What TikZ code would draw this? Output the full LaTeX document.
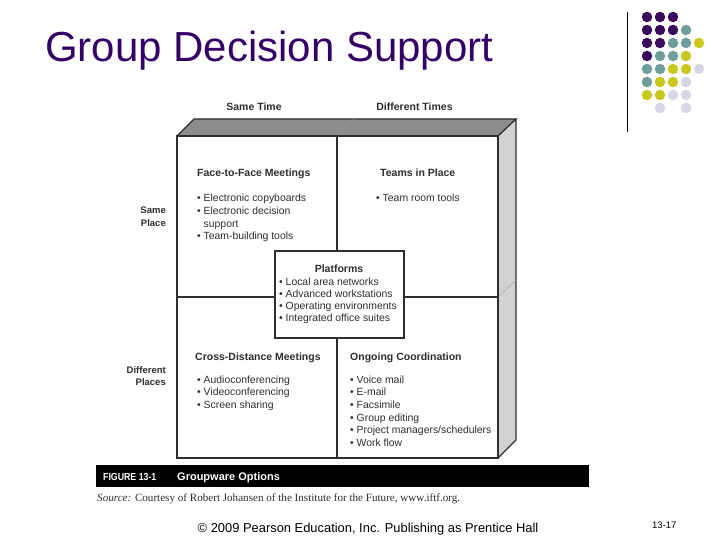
\documentclass[tikz,border=0pt]{standalone}
\usepackage{fontspec}
\setmainfont{Liberation Sans}
\newfontfamily\srcfont{Liberation Serif}
\definecolor{titlepurple}{HTML}{330066}
\definecolor{dotP}{HTML}{3A0B5C}
\definecolor{dotT}{HTML}{6F9C9C}
\definecolor{dotY}{HTML}{C8C81E}
\definecolor{dotL}{HTML}{D6D6E6}
\definecolor{ink}{HTML}{2E2E2E}
\definecolor{topgray}{HTML}{8C8C8C}
\definecolor{sidegray}{HTML}{D2D2D2}
\newcommand\mylistL[1]{\begin{tabular}[t]{@{}l@{}}#1\end{tabular}}
\newcommand\mylistR[1]{\begin{tabular}[t]{@{}r@{}}#1\end{tabular}}
\tikzset{
  txt/.style={inner sep=0pt, text=ink, font=\fontsize{10.4}{12.6}\selectfont},
  hdr/.style={inner sep=0pt, text=ink, font=\fontsize{10.5}{12.6}\selectfont\bfseries},
  edge/.style={draw=ink, line width=1.3pt},
  dotsty/.style={circle, inner sep=0pt, minimum size=10.5pt},
}
\begin{document}
\begin{tikzpicture}[x=1pt,y=-1pt]
\useasboundingbox (0,0) rectangle (720,540);
% title
\node[anchor=base west, inner sep=0pt, text=titlepurple, font=\fontsize{42}{50}\selectfont] (title) at (45,62) {Group Decision Support};
% decoration line and dots
\coordinate (vl1) at (627,12);
\coordinate (vl2) at (627,132);
\draw[line width=1pt] (vl1) -- (vl2);
\foreach \r/\row in {1/{P,P,P},2/{P,P,P,T},3/{P,P,T,T,Y},4/{P,T,T,Y},5/{T,T,Y,Y,L},6/{T,Y,Y,L},7/{Y,Y,L,L}}{
  \foreach \c [count=\i] in \row {
      \node[dotsty, fill=dot\c] (dot-\r-\i) at ({647+13*(\i-1)},{17+13*(\r-1)}) {};
  }
}
\node[dotsty, fill=dotL] (dot-8-2) at (660,108) {};
\node[dotsty, fill=dotL] (dot-8-4) at (686,108) {};
% box
\coordinate (fTL) at (177,136);
\coordinate (fTR) at (498,136);
\coordinate (fBL) at (177,458);
\coordinate (fBR) at (498,458);
\coordinate (bTL) at (194,119);
\coordinate (bTR) at (516,119);
\coordinate (bBR) at (516,440);
\fill[topgray] (fTL) -- (bTL) -- (bTR) -- (fTR) -- cycle;
\fill[sidegray] (fTR) -- (bTR) -- (bBR) -- (fBR) -- cycle;
\draw[edge, line join=miter] (fTL) -- (bTL) -- (bTR) -- (fTR);
\draw[edge] (bTR) -- (bBR) -- (fBR);
\draw[gray!80, line width=0.6pt] (337,136) -- (354,119);
\draw[gray!65, line width=0.6pt] (498,297) -- (516,280);
\draw[edge, fill=white] (fTL) rectangle (fBR);
\draw[edge] (337,136) -- (337,458);
\draw[edge] (177,297) -- (498,297);
\node[draw=ink, line width=1.3pt, fill=white, minimum width=129pt, minimum height=87pt, inner sep=0pt] (plat) at (339.5,294.5) {};
% axis labels
\node[hdr, anchor=base] (st) at (254,110.5) {Same Time};
\node[hdr, anchor=base] (dt) at (414.5,111) {Different Times};
\node[hdr, anchor=base east, font=\fontsize{9.5}{12.4}\selectfont\bfseries] (sp) at (166,214) {\mylistR{Same\\Place}};
\node[hdr, anchor=base east, font=\fontsize{9.5}{12.4}\selectfont\bfseries] (dp) at (166,373) {\mylistR{Different\\Places}};
% quadrant texts
\node[hdr, anchor=base west] (ftf) at (197,177) {Face-to-Face Meetings};
\node[txt, anchor=base west] (ftfb) at (197,202) {\mylistL{\textbullet{} Electronic copyboards\\\textbullet{} Electronic decision\\\phantom{\textbullet{} }support\\\textbullet{} Team-building tools}};
\node[hdr, anchor=base west] (tip) at (380,177) {Teams in Place};
\node[txt, anchor=base west] (tipb) at (376,202) {\textbullet{} Team room tools};
\node[hdr, anchor=base] (plh) at (339,272) {Platforms};
\node[txt, anchor=base west, font=\fontsize{10.4}{12.3}\selectfont] (plb) at (279,285) {\mylistL{\textbullet{} Local area networks\\\textbullet{} Advanced workstations\\\textbullet{} Operating environments\\\textbullet{} Integrated office suites}};
\node[hdr, anchor=base west] (cdm) at (195,360) {Cross-Distance Meetings};
\node[txt, anchor=base west] (cdmb) at (197,383) {\mylistL{\textbullet{} Audioconferencing\\\textbullet{} Videoconferencing\\\textbullet{} Screen sharing}};
\node[hdr, anchor=base west] (oc) at (350,360) {Ongoing Coordination};
\node[txt, anchor=base west, font=\fontsize{10.4}{12.7}\selectfont] (ocb) at (350,383) {\mylistL{\textbullet{} Voice mail\\\textbullet{} E-mail\\\textbullet{} Facsimile\\\textbullet{} Group editing\\\textbullet{} Project managers/schedulers\\\textbullet{} Work flow}};
% figure caption bar
\fill[black] (96,465) rectangle (589,487);
\node[anchor=base west, inner sep=0pt, text=white, font=\fontsize{10.2}{12}\selectfont\bfseries] (fig) at (103,480) {\scalebox{0.86}[1]{FIGURE 13-1}};
\node[anchor=base west, inner sep=0pt, text=white, font=\fontsize{11}{12}\selectfont\bfseries] (gw) at (177,480) {Groupware Options};
\node[anchor=base west, inner sep=0pt, text=ink, font=\srcfont\fontsize{11.1}{13}\selectfont] (src) at (97,501) {\textit{Source:} Courtesy of Robert Johansen of the Institute for the Future, www.iftf.org.};
% footer
\node[anchor=base, inner sep=0pt, font=\fontsize{12.9}{15}\selectfont] (copy) at (368,532) {\textcopyright{} 2009 Pearson Education, Inc. Publishing as Prentice Hall};
\node[anchor=base west, inner sep=0pt, font=\fontsize{9.5}{11}\selectfont] (pg) at (652,528) {13-17};
\end{tikzpicture}
\end{document}
